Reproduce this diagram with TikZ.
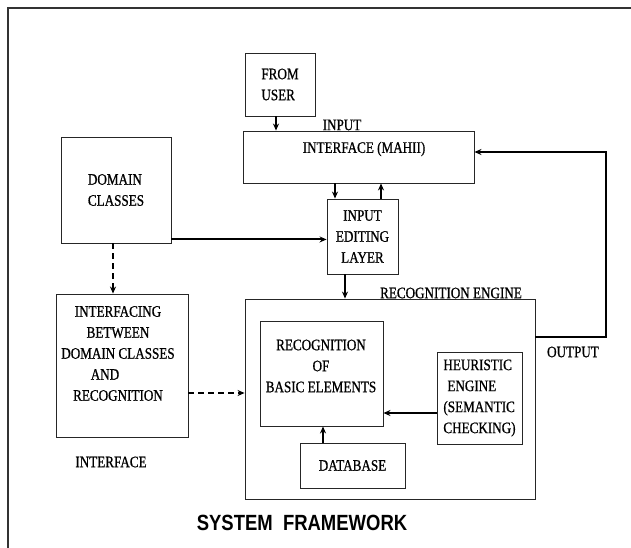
\documentclass[tikz,border=0pt]{standalone}
\usepackage{fontspec}
\setmainfont{Liberation Serif}[FakeStretch=0.82,FakeBold=0.8]
\newfontfamily\titlefont{Liberation Sans}[FakeStretch=0.84]
\usetikzlibrary{arrows.meta}

\begin{document}
\begin{tikzpicture}[x=1pt,y=-1pt,
        every node/.style={inner sep=0pt,font=\fontsize{16}{21}\selectfont},
        box/.style={draw=black!85,line width=0.9pt},
        arr/.style={-{Stealth[length=7pt,width=6pt]},line width=1.1pt},
        thickarr/.style={arr,line width=2pt},
        dasharr/.style={arr,line width=1.4pt,dash pattern=on 6pt off 4pt}]
    \useasboundingbox (0,0) rectangle (631,548);
    \draw[draw=black!80,line width=1.2pt] (631,8) -- (8,8) -- (8,548);

    \node[box,minimum width=70,minimum height=63,align=left] (user) at (280,84.5) {FROM\\USER};
    \node (inputlbl) at (342,125) {INPUT};
    \node[box,minimum width=231,minimum height=52] (iface) at (358.5,157) {};
    \node (ifacetxt) at (364,149) {INTERFACE (MAHII)};

    \node[box,minimum width=110,minimum height=106,align=left] (domain) at (116,190) {DOMAIN\\CLASSES};
    \node[box,minimum width=71,minimum height=75,align=center] (iel) at (362.5,236.5) {INPUT\\EDITING\\LAYER};

    \node[box,minimum width=132,minimum height=143] (intf) at (122,365.5) {};
    \node[align=center] (intftxt) at (118,353.5) {INTERFACING\\BETWEEN\\DOMAIN CLASSES\\AND\rule{26pt}{0pt}\\RECOGNITION};
    \node (intflbl) at (111,462) {INTERFACE};

    \node[box,minimum width=290,minimum height=200] (recog) at (390,399) {};
    \node (recoglbl) at (451,293) {RECOGNITION ENGINE};
    \node[box,minimum width=123,minimum height=105] (robe) at (321.5,373.5) {};
    \node[align=center] (robetxt) at (321,366) {RECOGNITION\\OF\\BASIC ELEMENTS};
    \node[box,minimum width=85,minimum height=92,align=left] (heur) at (479.5,398) {HEURISTIC\\\hspace*{4pt}ENGINE\\(SEMANTIC\\CHECKING)};
    \node[box,minimum width=105,minimum height=45] (db) at (352.5,465.5) {DATABASE};

    \node (outlbl) at (573,352) {OUTPUT};
    \node[font=\titlefont\bfseries\fontsize{22}{26}\selectfont] (title) at (302,523) {SYSTEM\ \ FRAMEWORK};
    \coordinate (fb) at (606,152);

    \draw[arr] ([xshift=-4]user.south) -- ([xshift=-4]user.south |- iface.north);
    \draw[arr] ([xshift=-27.5]iel.north |- iface.south) -- ([xshift=-27.5]iel.north);
    \draw[arr] ([xshift=18.5]iel.north) -- ([xshift=18.5]iel.north |- iface.south);
    \draw[thickarr] ([yshift=4]domain.south east) -- ([yshift=4]domain.south east -| iel.west);
    \draw[arr] ([xshift=-17.5]iel.south) -- ([xshift=-17.5]iel.south |- recog.north);
    \draw[dasharr] ([xshift=-3]domain.south) -- ([xshift=-3]domain.south |- intf.north);
    \draw[dasharr] ([yshift=-27.5]intf.east) -- ([yshift=-27.5]intf.east -| recog.west);
    \draw[thickarr] ([yshift=-15]heur.west) -- ([yshift=-15]heur.west -| robe.east);
    \draw[arr] ([xshift=-29.5]db.north) -- ([xshift=-29.5]db.north |- robe.south);
    \draw[arr] ([yshift=62]recog.east) -| (fb) -- (fb -| iface.east);
\end{tikzpicture}
\end{document}
